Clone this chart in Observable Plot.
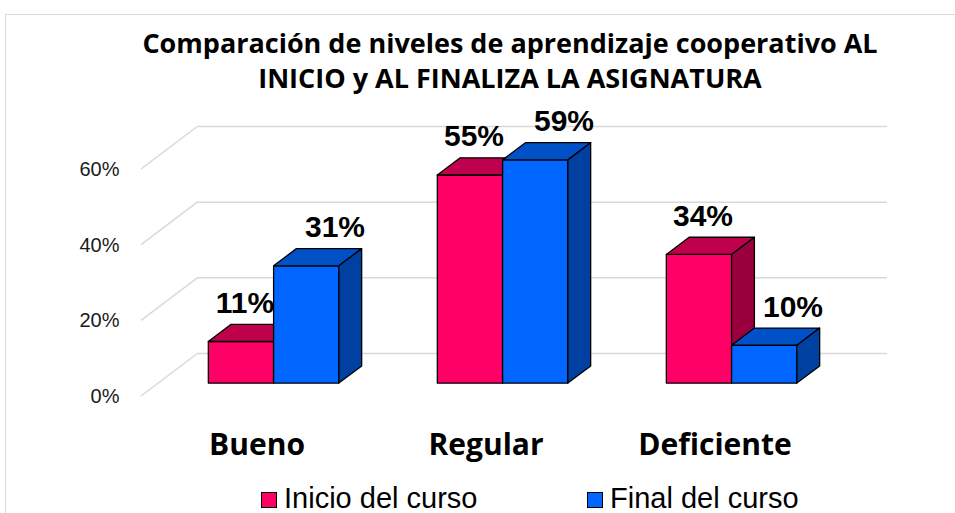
<!DOCTYPE html>
<html>
<head>
<meta charset="utf-8">
<script src="https://cdn.jsdelivr.net/npm/d3@7"></script>
<script src="https://cdn.jsdelivr.net/npm/@observablehq/plot@0.6"></script>
<style>
html, body { margin: 0; padding: 0; background: #fff; overflow: hidden; }
#wrap { position: relative; width: 955px; height: 513px; overflow: hidden; }
#frame { position: absolute; left: 5px; top: 14px; width: 1000px; height: 600px; border: 1px solid #d9d9d9; }
#title { position: absolute; left: 0; top: 25px; width: 1020px; text-align: center;
  font-family: "Open Sans", sans-serif; font-weight: bold; font-size: 27px; line-height: 35px; color: #000; }
#chart { position: absolute; left: 0; top: 0; }
.lg-sw { position: absolute; width: 16px; height: 16px; box-sizing: border-box; border: 1px solid #000; }
.lg-tx { position: absolute; font-family: "Liberation Sans", Arial, sans-serif; font-size: 29px; line-height: 29px; color: #000; white-space: nowrap; }
</style>
</head>
<body>
<div id="wrap">
  <div id="frame"></div>
  <div id="chart"></div>
  <div id="title">Comparación de niveles de aprendizaje cooperativo AL<br>INICIO y AL FINALIZA LA ASIGNATURA</div>
  <div id="legend"></div>
</div>
<script>
// ---- data ----
const categories = ["Bueno", "Regular", "Deficiente"];
const seriesNames = ["Inicio del curso", "Final del curso"];
const inicio = [0.11, 0.55, 0.34];
const final = [0.31, 0.59, 0.10];
const yTicks = [0, 0.2, 0.4, 0.6];

// ---- style ----
const frontColors = ["#ff0066", "#0066ff"];
const topColors = ["#bf004c", "#0050c8"];
const sideColors = ["#99003d", "#0040a0"];
const gridColor = "#d9d9d9";
const DX = 57, DY = 43;       // full floor depth (px)
const Z0 = 0.3, Z1 = 0.7;     // bar depth span
const BAR = 0.285;            // bar width as fraction of band

const rows = categories.flatMap((c, i) => [
  {cat: c, s: 0, v: inicio[i]},
  {cat: c, s: 1, v: final[i]}
]);
const pct = d3.format(".0%");

function bars3d(index, scales, values, dims) {
  const {x, y} = scales;
  const bw = x.bandwidth();
  const g = d3.create("svg:g");
  // side-wall gridlines
  for (const t of yTicks) {
    g.append("line")
      .attr("x1", dims.marginLeft).attr("y1", y(t))
      .attr("x2", dims.marginLeft + DX).attr("y2", y(t) - DY)
      .attr("stroke", gridColor).attr("stroke-width", 1.5);
  }
  const ddx = (Z1 - Z0) * DX, ddy = (Z1 - Z0) * DY;
  const barW = bw * BAR;
  for (const d of rows) {
    const cx = x(d.cat) + bw / 2 + Z0 * DX;
    const xl = cx + (d.s - 1) * barW, xr = xl + barW;
    const yb = y(0) - Z0 * DY, yt = y(d.v) - Z0 * DY;
    const sw = 1.3;
    g.append("rect").attr("x", xl).attr("y", yt).attr("width", barW).attr("height", yb - yt)
      .attr("fill", frontColors[d.s]).attr("stroke", "#000").attr("stroke-width", sw).attr("stroke-linejoin", "round");
    g.append("path").attr("d", `M${xl},${yt}L${xr},${yt}L${xr + ddx},${yt - ddy}L${xl + ddx},${yt - ddy}Z`)
      .attr("fill", topColors[d.s]).attr("stroke", "#000").attr("stroke-width", sw).attr("stroke-linejoin", "round");
    g.append("path").attr("d", `M${xr},${yt}L${xr + ddx},${yt - ddy}L${xr + ddx},${yb - ddy}L${xr},${yb}Z`)
      .attr("fill", sideColors[d.s]).attr("stroke", "#000").attr("stroke-width", sw).attr("stroke-linejoin", "round");
  }
  return g.node();
}

const W = 955, H = 513;
const plot = Plot.plot({
  width: W, height: H,
  marginLeft: 141, marginRight: W - 830, marginTop: 169, marginBottom: H - 396,
  style: {background: "transparent", overflow: "visible"},
  x: {type: "band", domain: categories, padding: 0, axis: null},
  y: {domain: [0, 0.6], axis: null},
  marks: [
    Plot.ruleY(yTicks, {y: d => d, dx: DX, dy: -DY, stroke: gridColor, strokeWidth: 1.5}),
    Plot.text(yTicks, {y: d => d, text: d => pct(d), frameAnchor: "left", textAnchor: "end", dx: -22,
      fontSize: 20, fontFamily: "Liberation Sans, Arial, sans-serif", fill: "#1a1a1a"}),
    bars3d,
    Plot.text(rows.filter(d => d.s === 0), {x: "cat", y: "v", text: d => pct(d.v), dx: -12, dy: -42,
      lineAnchor: "bottom", fontSize: 30, fontWeight: "bold", fontFamily: "Liberation Sans, Arial, sans-serif", fill: "#000"}),
    Plot.text(rows.filter(d => d.s === 1), {x: "cat", y: "v", text: d => pct(d.v), dx: 78, dy: -42,
      lineAnchor: "bottom", fontSize: 30, fontWeight: "bold", fontFamily: "Liberation Sans, Arial, sans-serif", fill: "#000"}),
    Plot.text(categories, {x: d => d, text: d => d, frameAnchor: "bottom", dy: 58, lineAnchor: "bottom",
      fontSize: 30, fontWeight: "bold", fontFamily: "Open Sans, sans-serif", fill: "#000"})
  ]
});
document.getElementById("chart").appendChild(plot);

// legend
const legend = document.getElementById("legend");
const lgX = [261, 587];
seriesNames.forEach((name, i) => {
  const sw = document.createElement("div");
  sw.className = "lg-sw";
  sw.style.left = lgX[i] + "px"; sw.style.top = "492px"; sw.style.background = frontColors[i];
  legend.appendChild(sw);
  const tx = document.createElement("div");
  tx.className = "lg-tx";
  tx.style.left = (lgX[i] + 23) + "px"; tx.style.top = "484px";
  tx.textContent = name;
  legend.appendChild(tx);
});
</script>
</body>
</html>
